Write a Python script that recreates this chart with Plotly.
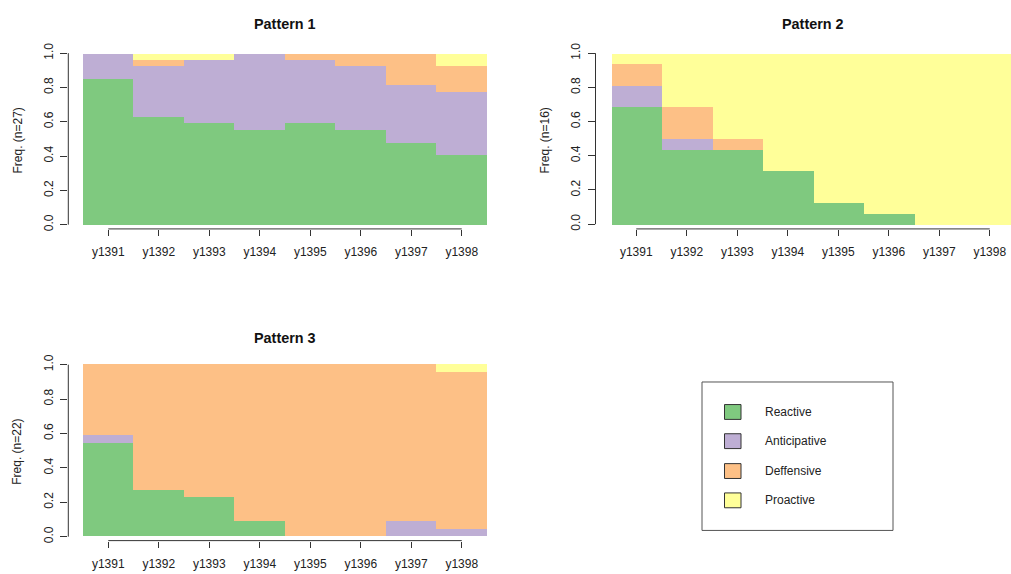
import plotly.graph_objects as go

# ---------------- data ----------------
years = ["y1391", "y1392", "y1393", "y1394", "y1395", "y1396", "y1397", "y1398"]
series_names = ["Reactive", "Anticipative", "Deffensive", "Proactive"]
series_colors = ["#7FC97F", "#BEAED4", "#FDC086", "#FFFF99"]

p1_n = 27
p1_reactive = [23, 17, 16, 15, 16, 15, 13, 11]
p1_anticipative = [4, 8, 10, 12, 10, 10, 9, 10]
p1_deffensive = [0, 1, 0, 0, 1, 2, 5, 4]
p1_proactive = [0, 1, 1, 0, 0, 0, 0, 2]

p2_n = 16
p2_reactive = [11, 7, 7, 5, 2, 1, 0, 0]
p2_anticipative = [2, 1, 0, 0, 0, 0, 0, 0]
p2_deffensive = [2, 3, 1, 0, 0, 0, 0, 0]
p2_proactive = [1, 5, 8, 11, 14, 15, 16, 16]

p3_n = 22
p3_reactive = [12, 6, 5, 2, 0, 0, 0, 0]
p3_anticipative = [1, 0, 0, 0, 0, 0, 2, 1]
p3_deffensive = [9, 16, 17, 20, 22, 22, 20, 20]
p3_proactive = [0, 0, 0, 0, 0, 0, 0, 1]

panels = [
    ("Pattern 1", p1_n, [p1_reactive, p1_anticipative, p1_deffensive, p1_proactive]),
    ("Pattern 2", p2_n, [p2_reactive, p2_anticipative, p2_deffensive, p2_proactive]),
    ("Pattern 3", p3_n, [p3_reactive, p3_anticipative, p3_deffensive, p3_proactive]),
]

# ---------------- layout geometry (pixels) ----------------
W, H = 1011, 574
UNIT = 50.5  # px per bar
FONT = "Liberation Sans, Arial, sans-serif"
TXT = "#222222"

# axis_x_px, bar_left_px, right_px, y1_px, y0_px, axisline_y_px, top_px
geo = [
    (68.3, 83.0, 503.0, 50.7, 224.0, 228.3, 43.0),
    (595.5, 611.0, 1011.0, 50.7, 223.5, 228.3, 43.0),
    (68.3, 83.0, 503.0, 365.5, 539.3, 543.3, 358.0),
]
title_pos = [(285, 21.5), (813, 21.5), (285, 338.3)]
ylab_pos = [(18, 139), (545, 139), (17.5, 454)]

fig = go.Figure()
layout = dict(
    width=W, height=H,
    margin=dict(l=0, r=0, t=0, b=0),
    paper_bgcolor="white", plot_bgcolor="white",
    barmode="stack", bargap=0,
    showlegend=False,
    font=dict(family=FONT, size=12, color=TXT),
)
shapes = []
annotations = []

for i, (title, n, counts) in enumerate(panels):
    ax_x, bar_l, right, y1p, y0p, axl_y, top = geo[i]
    xa = "x" if i == 0 else f"x{i+1}"
    ya = "y" if i == 0 else f"y{i+1}"
    for name, color, vals in zip(series_names, series_colors, counts):
        fig.add_trace(go.Bar(
            x=years, y=[v / n for v in vals], name=name,
            marker=dict(color=color, line=dict(width=0)),
            xaxis=xa, yaxis=ya, width=1.0,
            hovertemplate=name + " %{x}: %{y:.3f}<extra></extra>",
        ))
    uy = y0p - y1p
    xr = [-0.5 - (bar_l - ax_x) / UNIT, -0.5 + (right - bar_l) / UNIT]
    yr = [-(axl_y - y0p) / uy, 1 + (y1p - top) / uy]
    xkey = "xaxis" if i == 0 else f"xaxis{i+1}"
    ykey = "yaxis" if i == 0 else f"yaxis{i+1}"
    layout[xkey] = dict(
        domain=[ax_x / W, right / W], range=xr, anchor=ya,
        type="category", showgrid=False, zeroline=False, showline=False,
        ticks="outside", ticklen=6, tickwidth=1, tickcolor="#333333",
        tickfont=dict(family=FONT, size=12, color=TXT),
        ticklabelstandoff=6, fixedrange=True,
    )
    layout[ykey] = dict(
        domain=[1 - axl_y / H, 1 - top / H], range=yr, anchor=xa,
        showgrid=False, zeroline=False, showline=False,
        tickmode="array", tickvals=[0, 0.2, 0.4, 0.6, 0.8, 1.0],
        ticktext=["0.0", "0.2", "0.4", "0.6", "0.8", "1.0"],
        ticks="outside", ticklen=7, tickwidth=1, tickcolor="#333333",
        tickangle=-90, tickfont=dict(family=FONT, size=12, color=TXT),
        ticklabelstandoff=3, fixedrange=True,
    )
    # R-style axis lines (only between extreme ticks)
    shapes.append(dict(type="line", xref=f"{xa} domain", yref=ya,
                       x0=0, x1=0, y0=0, y1=1,
                       line=dict(color="#333333", width=1)))
    shapes.append(dict(type="line", xref=xa, yref=f"{ya} domain",
                       x0=0, x1=len(years) - 1, y0=0, y1=0,
                       line=dict(color="#333333", width=1)))
    tx, ty = title_pos[i]
    annotations.append(dict(text="<b>" + title + "</b>", xref="paper", yref="paper",
                            x=tx / W, y=1 - ty / H, xanchor="center", yanchor="middle",
                            showarrow=False, font=dict(family=FONT, size=14.4, color="#111111")))
    lx, ly = ylab_pos[i]
    annotations.append(dict(text=f"Freq. (n={n})", xref="paper", yref="paper",
                            x=lx / W, y=1 - ly / H, xanchor="center", yanchor="middle",
                            textangle=-90, showarrow=False,
                            font=dict(family=FONT, size=12, color=TXT)))

# ---------------- legend box (drawn like R's legend) ----------------
shapes.append(dict(type="rect", xref="paper", yref="paper",
                   x0=702 / W, x1=893 / W, y0=1 - 533 / H, y1=1 - 383 / H,
                   line=dict(color="#555555", width=1), fillcolor="white"))
leg_y = [413.3, 442.8, 473.0, 502.6]
for name, color, cy in zip(series_names, series_colors, leg_y):
    shapes.append(dict(type="rect", xref="paper", yref="paper",
                       x0=724.5 / W, x1=741 / W, y0=1 - (cy + 7.5) / H, y1=1 - (cy - 7.5) / H,
                       line=dict(color="#333333", width=1), fillcolor=color))
    annotations.append(dict(text=name, xref="paper", yref="paper",
                            x=762.5 / W, y=1 - cy / H, xanchor="left", yanchor="middle",
                            showarrow=False, font=dict(family=FONT, size=12, color=TXT)))

layout["shapes"] = shapes
layout["annotations"] = annotations
fig.update_layout(**layout)
fig.write_html(
    "out.html",
    config={"displayModeBar": False},
    post_script="document.body.style.margin='0px';document.body.style.overflow='hidden';",
)
